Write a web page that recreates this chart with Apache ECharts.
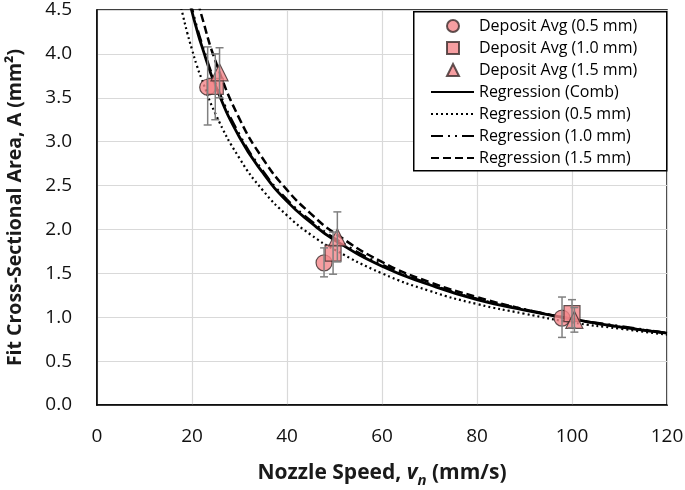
<!DOCTYPE html>
<html lang="en">
<head>
    <meta charset="UTF-8">
    <title>Fit Cross-Sectional Area</title>
    <script src="https://cdn.jsdelivr.net/npm/echarts@6/dist/echarts.min.js"></script>
    <style>
        *{
            padding:0;
            margin:0;
        }
        html,body{
            height:100%;
            background:#fff;
        }
        #main{
            width:685px;
            height:490px;
        }
    </style>
</head>
<body>
<div id="main"></div>
<script>
    // deposit averages (x = nozzle speed mm/s, y = area mm2)
    var dep05X = [23.3, 47.8, 97.9];
    var dep05Y = [3.62, 1.62, 0.99];
    var dep05Lo = [3.19, 1.46, 0.77];
    var dep05Hi = [4.08, 1.79, 1.23];

    var dep10X = [24.9, 49.7, 100.0];
    var dep10Y = [3.63, 1.73, 1.04];
    var dep10Lo = [3.25, 1.49, 0.88];
    var dep10Hi = [4.00, 1.97, 1.20];

    var dep15X = [25.8, 50.6, 100.5];
    var dep15Y = [3.79, 1.91, 0.97];
    var dep15Lo = [3.50, 1.63, 0.83];
    var dep15Hi = [4.07, 2.20, 1.11];

    // regression curves
    var regX = [17, 18, 19, 20, 21, 22, 25, 30, 35, 40, 45, 50, 60, 70, 80, 90, 100, 110, 120];
    var regComb = [5.25, 4.98, 4.71, 4.48, 4.28, 4.10, 3.63, 3.05, 2.64, 2.32, 2.08, 1.88, 1.58, 1.37, 1.20, 1.08, 0.98, 0.89, 0.82];
    var reg05 = [4.69, 4.46, 4.24, 4.05, 3.87, 3.72, 3.31, 2.81, 2.44, 2.16, 1.94, 1.77, 1.50, 1.30, 1.15, 1.04, 0.94, 0.87, 0.80];
    var reg10 = [5.30, 5.02, 4.75, 4.52, 4.31, 4.13, 3.66, 3.08, 2.66, 2.34, 2.10, 1.90, 1.60, 1.38, 1.21, 1.09, 0.98, 0.90, 0.82];
    var reg15 = [5.65, 5.32, 5.04, 4.79, 4.65, 4.44, 3.91, 3.26, 2.80, 2.45, 2.18, 1.96, 1.63, 1.40, 1.23, 1.09, 0.98, 0.89, 0.82];

    var depNames = ['Deposit Avg (0.5 mm)','Deposit Avg (1.0 mm)','Deposit Avg (1.5 mm)'];
    var regNames = ['Regression (Comb)','Regression (0.5 mm)','Regression (1.0 mm)','Regression (1.5 mm)'];

    var markerFill = '#f4868a';
    var markerLine = '#3a2a2a';
    var font = 'Open Sans';
    var ink = '#1a1a1a';

    function pairs(xs, ys){
        var out = [];
        for(var i=0;i<xs.length;i++){
            out.push([xs[i], ys[i]]);
        }
        return out;
    }
    function errs(xs, lo, hi){
        var out = [];
        for(var i=0;i<xs.length;i++){
            out.push([xs[i], lo[i], hi[i]]);
        }
        return out;
    }

    function errorBar(params, api){
        var x = api.value(0);
        var lo = api.coord([x, api.value(1)]);
        var hi = api.coord([x, api.value(2)]);
        var cap = 4;
        var style = {stroke:'#808080', lineWidth:1.5};
        return {
            type:'group',
            children:[
                {type:'line', shape:{x1:lo[0], y1:lo[1], x2:hi[0], y2:hi[1]}, style:style},
                {type:'line', shape:{x1:lo[0]-cap, y1:lo[1], x2:lo[0]+cap, y2:lo[1]}, style:style},
                {type:'line', shape:{x1:hi[0]-cap, y1:hi[1], x2:hi[0]+cap, y2:hi[1]}, style:style}
            ]
        };
    }

    function scatter(name, symbol, size, xs, ys){
        return {
            name:name,
            type:'scatter',
            symbol:symbol,
            symbolSize:size,
            data:pairs(xs, ys),
            itemStyle:{
                color:markerFill,
                borderColor:markerLine,
                borderWidth:1.2
            },
            z:5
        };
    }

    function regLine(name, ys, type, width){
        return {
            name:name,
            type:'line',
            data:pairs(regX, ys),
            smooth:true,
            symbol:'none',
            clip:true,
            color:'#000',
            lineStyle:{
                color:'#000',
                width:width,
                type:type
            },
            z:3
        };
    }

    function errSeries(xs, lo, hi){
        return {
            type:'custom',
            renderItem:errorBar,
            data:errs(xs, lo, hi),
            silent:true,
            z:6
        };
    }

    var legendText = {
        fontFamily:font,
        fontSize:16,
        lineHeight:16,
        color:'#000'
    };

    var myChart = echarts.init(document.getElementById('main'));

    var option = {
        backgroundColor:'#fff',
        animation:false,
        grid:{
            left:97,
            right:18,
            top:10,
            bottom:85,
            outerBoundsMode:'none',
            containLabel:false,
            show:true,
            borderColor:'#000',
            borderWidth:1.5
        },
        graphic:[{
            type:'rect',
            left:413,
            top:11,
            shape:{width:253, height:159},
            style:{fill:'#fff', stroke:'#000', lineWidth:1.5},
            z:10
        }],
        legend:[{
            orient:'vertical',
            left:446,
            top:18,
            padding:0,
            itemWidth:12,
            itemHeight:12,
            itemGap:6,
            textStyle:Object.assign({padding:[0,0,0,15]}, legendText),
            data:depNames,
            z:20
        },{
            orient:'vertical',
            left:430,
            top:84,
            padding:0,
            itemWidth:43,
            itemHeight:12,
            itemGap:6,
            itemStyle:{opacity:0},
            textStyle:legendText,
            data:regNames,
            z:20
        }],
        xAxis:{
            type:'value',
            min:0,
            max:120,
            interval:20,
            name:'{b|Nozzle Speed, }{i|v}{s|n}{b| (mm/s)}',
            nameLocation:'middle',
            nameGap:55,
            nameTextStyle:{
                rich:{
                    b:{fontFamily:font, fontSize:21, fontWeight:'bold', color:ink, verticalAlign:'bottom', lineHeight:24},
                    i:{fontFamily:font, fontSize:21, fontWeight:'bold', fontStyle:'italic', color:ink, verticalAlign:'bottom', lineHeight:24},
                    s:{fontFamily:font, fontSize:15, fontWeight:'bold', fontStyle:'italic', color:ink, verticalAlign:'bottom', lineHeight:24, padding:[0,0,-4,0]}
                }
            },
            axisLine:{lineStyle:{color:'#000', width:1.5}},
            axisTick:{show:false},
            axisLabel:{
                margin:22,
                fontFamily:font,
                fontSize:19,
                color:'#111'
            },
            splitLine:{lineStyle:{color:'#d9d9d9', width:1.2}}
        },
        yAxis:{
            type:'value',
            min:0,
            max:4.5,
            interval:0.5,
            name:'Fit Cross-Sectional Area, A (mm²)',
            nameLocation:'middle',
            nameGap:72,
            nameTextStyle:{
                fontFamily:font,
                fontSize:19.5,
                fontWeight:'bold',
                color:ink
            },
            axisLine:{lineStyle:{color:'#000', width:1.5}},
            axisTick:{show:false},
            axisLabel:{
                margin:25,
                fontFamily:font,
                fontSize:19,
                color:'#111',
                formatter:function(v){ return v.toFixed(1); }
            },
            splitLine:{lineStyle:{color:'#d9d9d9', width:1.2}}
        },
        series:[
            regLine(regNames[0], regComb, 'solid', 2.8),
            regLine(regNames[1], reg05, [2,3], 2.2),
            regLine(regNames[2], reg10, [12,5,2,5,2,5], 2.5),
            regLine(regNames[3], reg15, [8,4], 2.5),
            scatter(depNames[0], 'circle', 16, dep05X, dep05Y),
            scatter(depNames[1], 'rect', 16, dep10X, dep10Y),
            scatter(depNames[2], 'triangle', 17, dep15X, dep15Y),
            errSeries(dep05X, dep05Lo, dep05Hi),
            errSeries(dep10X, dep10Lo, dep10Hi),
            errSeries(dep15X, dep15Lo, dep15Hi)
        ]
    };
    myChart.setOption(option);
</script>
</body>
</html>
